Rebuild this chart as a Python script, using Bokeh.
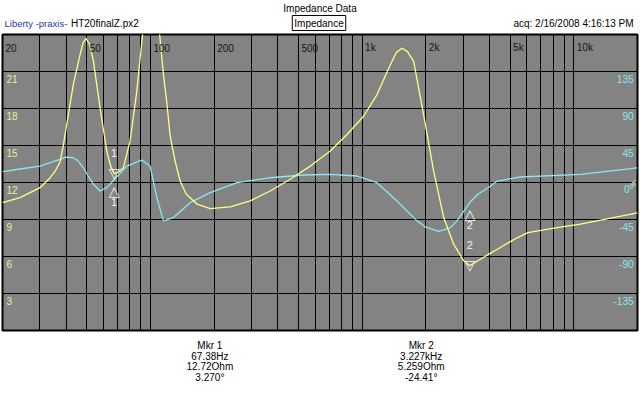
from bokeh.plotting import figure
from bokeh.models import Range1d, Grid, FixedTicker
from bokeh.layouts import column
from bokeh.embed import file_html
from bokeh.resources import INLINE
from bokeh.core.properties import value

# ---------------- data ----------------
imp_freq = [20, 24.2, 30.1, 33.6, 35.5, 37.4, 38.7, 40.2, 43.2, 46.5, 48.1, 49.6, 51.6, 53.8, 57.8,
            62.2, 64.8, 67.38, 71.1, 74.5, 80.1, 86.2, 89.4, 91.8, 100.7, 110.5, 115.2, 119.3,
            123.9, 130.8, 138.1, 147.5, 166.2, 191.5, 238, 296, 368, 457, 569, 707, 848, 1016,
            1176, 1359, 1451, 1544, 1635, 1752, 1843, 1952, 2178, 2429, 2707, 3018, 3227, 3524,
            4024, 4500, 5282, 6072, 8192, 10754, 20000]
imp_ohm = [10.37, 10.77, 11.58, 12.39, 12.93, 13.66, 14.95, 16.70, 19.94, 22.36, 23.35, 23.68, 23.19,
           21.82, 18.04, 14.55, 13.33, 12.72, 12.89, 13.20, 15.35, 19.39, 22.09, 24.0, 32.0, 24.0,
           20.74, 18.59, 15.76, 13.74, 12.12, 11.07, 10.24, 9.88, 10.02, 10.51, 11.31, 12.26, 13.33,
           14.55, 15.89, 17.37, 19.13, 21.55, 22.55, 22.89, 22.63, 21.82, 19.8, 17.51, 12.93, 9.16,
           7.00, 5.66, 5.259, 5.66, 6.25, 6.73, 7.43, 7.94, 8.32, 8.62, 9.54]

ph_freq = [20, 24.2, 30.1, 37.4, 40.0, 43.2, 45.6, 48.2, 50.8, 53.8, 57.8, 62.2, 67.38, 77.3, 91.0,
           99.6, 107.2, 115.2, 128.4, 154, 191.5, 256, 368, 529, 707, 946, 1176, 1461, 1817,
           1985, 2300, 2604, 2808, 3227, 3524, 3938, 4341, 5596, 10754, 20000]
ph_deg = [13.1, 16.4, 20.0, 28.1, 30.9, 30.1, 26.1, 17.9, 7.9, -2.2, -10.3, -6.3, 3.27, 20.0, 27.3,
          20.0, -18.4, -46.7, -42.7, -24.5, -12.4, -0.2, 5.8, 9.1, 9.9, 7.9, -0.2, -22.4, -46.7,
          -53.9, -59.5, -55.2, -46.7, -24.41, -14.3, -6.3, 1.8, 6.7, 9.9, 17.9]

grid_freqs = [30, 40, 50, 60, 70, 80, 90, 100, 200, 300, 400, 500, 600, 700, 800, 900,
              1000, 2000, 3000, 4000, 5000, 6000, 7000, 8000, 9000, 10000]
freq_label_vals = [20, 50, 100, 200, 500, 1000, 2000, 5000, 10000]
freq_labels = ["20", "50", "100", "200", "500", "1k", "2k", "5k", "10k"]
ohm_ticks = [21, 18, 15, 12, 9, 6, 3]
ohm_labels = ["21", "18", "15", "12", "9", "6", "3"]
deg_ticks = [135, 90, 45, 0, -45, -90, -135]
deg_labels = ["135", "90", "45", "0°", "-45", "-90", "-135"]

mkr_ids = ["1", "2"]
mkr_freq = [67.38, 3227]
mkr_ohm = [12.72, 5.259]
mkr_deg = [3.27, -24.41]
mkr_freq_txt = ["67.38Hz", "3.227kHz"]
mkr_ohm_txt = ["12.72Ohm", "5.259Ohm"]
mkr_deg_txt = ["3.270°", "-24.41°"]

FONT = value("Liberation Sans")
YEL = "#FFFF80"
CYN = "#8CE8F0"

# ---------------- header ----------------
h = figure(width=640, height=32, x_range=Range1d(0, 640), y_range=Range1d(0, 32),
           x_axis_location=None, y_axis_location=None, toolbar_location=None,
           output_backend="svg", min_border=0, outline_line_color=None)
h.grid.visible = False
h.text(x=[320], y=[24], text=["Impedance Data"], text_align="center", text_baseline="middle",
       text_font=FONT, text_font_size="10px", text_color="black")
h.text(x=[2], y=[9.5], text=["Liberty -praxis-"], text_align="left", text_baseline="middle",
       text_font=FONT, text_font_size="9.5px", text_color="#22389A")
h.text(x=[69], y=[9.5], text=["HT20finalZ.px2"], text_align="left", text_baseline="middle",
       text_font=FONT, text_font_size="10px", text_color="black")
h.text(x=[319], y=[9.5], text=["Impedance"], text_align="center", text_baseline="middle",
       text_font=FONT, text_font_size="10px", text_color="black",
       border_line_color="black", border_line_width=1, padding=2)
h.text(x=[636], y=[9.5], text=["acq: 2/16/2008 4:16:13 PM"], text_align="right", text_baseline="middle",
       text_font=FONT, text_font_size="10px", text_color="black")

# ---------------- main plot ----------------
p = figure(width=640, height=300, x_axis_type="log",
           x_range=Range1d(20, 20000), y_range=Range1d(0, 24),
           x_axis_location=None, y_axis_location=None, toolbar_location=None,
           output_backend="svg", min_border_left=2, min_border_right=3,
           min_border_top=2, min_border_bottom=2,
           background_fill_color="#838383", border_fill_color="white",
           outline_line_color="black", outline_line_width=2)
p.extra_y_ranges = {"phase": Range1d(-180, 180)}
p.grid.visible = False
p.add_layout(Grid(dimension=0, ticker=FixedTicker(ticks=grid_freqs),
                  grid_line_color="black", grid_line_width=1))
p.add_layout(Grid(dimension=1, ticker=FixedTicker(ticks=ohm_ticks),
                  grid_line_color="black", grid_line_width=1))

p.line(ph_freq, ph_deg, line_color=CYN, line_width=1.3, y_range_name="phase")
p.line(imp_freq, imp_ohm, line_color=YEL, line_width=1.3)

p.text(x=freq_label_vals, y=[24] * len(freq_label_vals), text=freq_labels,
       x_offset=3, y_offset=13, text_baseline="middle", text_align="left",
       text_font=FONT, text_font_size="10px", text_color="#151515")
p.text(x=[20] * len(ohm_ticks), y=ohm_ticks, text=ohm_labels,
       x_offset=4, y_offset=7, text_baseline="middle", text_align="left",
       text_font=FONT, text_font_size="10px", text_color="#EDED9A")
p.text(x=[20000] * len(deg_ticks), y=deg_ticks, text=deg_labels, y_range_name="phase",
       x_offset=-4, y_offset=7, text_baseline="middle", text_align="right",
       text_font=FONT, text_font_size="10px", text_color=CYN)
p.text(x=[20000], y=[0], text=["◢"], y_range_name="phase", x_offset=-2, y_offset=-1,
       text_baseline="alphabetic", text_align="right", text_font=value("DejaVu Sans"),
       text_font_size="9px", text_color="#B0B0B0")

# markers
p.text(x=mkr_freq, y=mkr_ohm, text=["▽"] * 2, x_offset=0, y_offset=-1,
       text_baseline="alphabetic", text_align="center", text_font=value("DejaVu Sans"),
       text_font_size="14px", text_color="#F4F4F4")
p.text(x=mkr_freq, y=mkr_ohm, text=mkr_ids, y_offset=-21,
       text_baseline="middle", text_align="center", text_font=FONT,
       text_font_size="11px", text_color="#F4F4F4")
p.text(x=mkr_freq, y=mkr_deg, text=["△"] * 2, y_range_name="phase", y_offset=11,
       text_baseline="alphabetic", text_align="center", text_font=value("DejaVu Sans"),
       text_font_size="14px", text_color="#F4F4F4")
p.text(x=mkr_freq, y=mkr_deg, text=mkr_ids, y_range_name="phase", y_offset=22,
       text_baseline="middle", text_align="center", text_font=FONT,
       text_font_size="11px", text_color="#F4F4F4")

# ---------------- footer ----------------
f = figure(width=640, height=65, x_range=Range1d(0, 640), y_range=Range1d(0, 65),
           x_axis_location=None, y_axis_location=None, toolbar_location=None,
           output_backend="svg", min_border=0, outline_line_color=None)
f.grid.visible = False
line_y = [52, 41.5, 31, 20.5]
mkr_x = [209, 422]
for i in range(2):
    f.text(x=[mkr_x[i]] * 4, y=line_y,
           text=["Mkr " + mkr_ids[i], mkr_freq_txt[i], mkr_ohm_txt[i], mkr_deg_txt[i]],
           text_align="center", text_baseline="middle", text_font=FONT,
           text_font_size="10px", text_color="black")

layout = column(h, p, f, spacing=0)
open("out.html", "w").write(file_html(layout, INLINE))
